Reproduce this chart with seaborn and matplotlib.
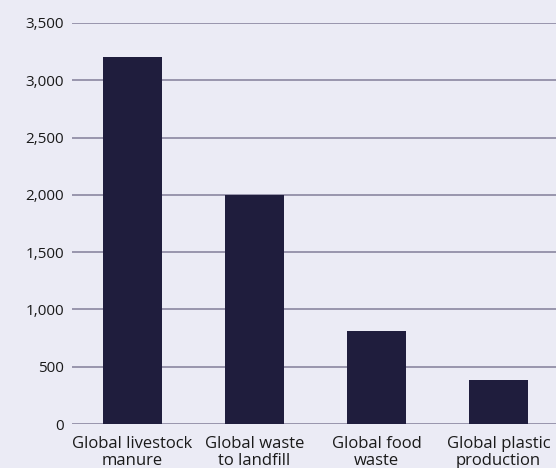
import matplotlib
matplotlib.use("Agg")
import matplotlib.pyplot as plt
import seaborn as sns
import pandas as pd
from matplotlib.ticker import FuncFormatter

categories = ["Global livestock\nmanure", "Global waste\nto landfill", "Global food\nwaste", "Global plastic\nproduction"]
values = [3200, 2000, 810, 380]
yticks = [0, 500, 1000, 1500, 2000, 2500, 3000, 3500]

bg = "#ebebf5"
bar_color = "#1f1d3d"
grid_color = "#8a87a0"

sns.set_theme(style="white")
plt.rcParams["font.family"] = ["Open Sans", "DejaVu Sans"]

df = pd.DataFrame({"cat": categories, "val": values})

fig = plt.figure(figsize=(5.56, 4.68), dpi=100, facecolor=bg)
ax = fig.add_axes([71.5/556, (468-424)/468, (556-71.5)/556, (424-23)/468])
ax.set_facecolor(bg)

sns.barplot(data=df, x="cat", y="val", color=bar_color, width=0.48, ax=ax,
            zorder=3, saturation=1, linewidth=0, edgecolor=bar_color)

ax.set_ylim(0, 3500)
ax.set_xlim(-0.5, 3.5 - 3.5/122)
ax.set_yticks(yticks)
ax.yaxis.set_major_formatter(FuncFormatter(lambda v, p: f"{int(v):,}"))
ax.grid(axis="y", color=grid_color, linewidth=1.2, zorder=0)
ax.set_axisbelow(True)
for s in ax.spines.values():
    s.set_visible(False)
ax.tick_params(axis="both", length=0, colors="#1a1a1a")
ax.tick_params(axis="y", pad=5.5, labelsize=11)
ax.tick_params(axis="x", pad=9, labelsize=12)
for lbl in ax.get_xticklabels():
    lbl.set_linespacing(1.05)
ax.set_xlabel("")
ax.set_ylabel("")

fig.savefig("out.png", dpi=100, facecolor=bg)
